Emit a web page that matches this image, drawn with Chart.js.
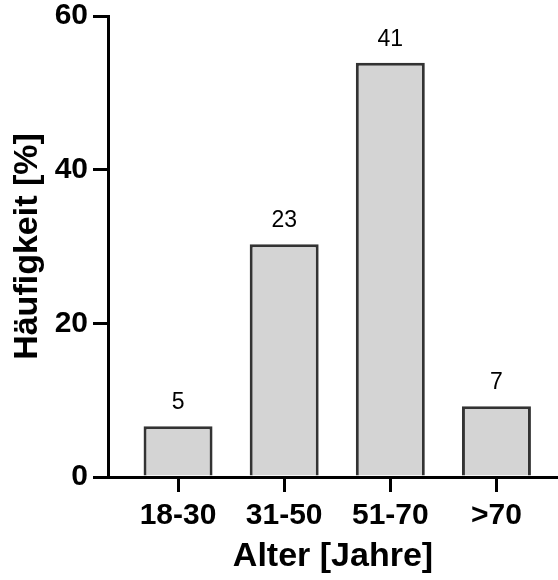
<!DOCTYPE html>
<html lang="de">
<head>
  <meta charset="utf-8">
  <title>Altersverteilung</title>
  <script src="https://cdn.jsdelivr.net/npm/chart.js"></script>
  <style>
    html, body { margin: 0; padding: 0; background: #fff; }
    #chart { display: block; }
  </style>
</head>
<body>
  <canvas id="chart" width="558" height="580"></canvas>
  <script>
    // Altersgruppen, Häufigkeit in % und Anzahl (Beschriftung über den Balken)
    const categories = ['18-30', '31-50', '51-70', '>70'];
    const percentages = [6.6, 30.3, 53.9, 9.2];
    const counts = [5, 23, 41, 7];
    const yTickValues = [0, 20, 40, 60];

    const FONT = '"Liberation Sans", Arial, Helvetica, sans-serif';

    // Anzahl über jedem Balken
    const countLabels = {
      id: 'countLabels',
      afterDatasetsDraw(chart) {
        const ctx = chart.ctx;
        const meta = chart.getDatasetMeta(0);
        ctx.save();
        ctx.font = '23px ' + FONT;
        ctx.fillStyle = '#000';
        ctx.textAlign = 'center';
        ctx.textBaseline = 'alphabetic';
        meta.data.forEach((bar, i) => {
          ctx.fillText(String(counts[i]), bar.x, bar.y - 17);
        });
        ctx.restore();
      }
    };

    const ctx = document.getElementById('chart').getContext('2d');
    new Chart(ctx, {
      type: 'bar',
      data: {
        datasets: [{
          data: categories.map((c, i) => ({ x: i, y: percentages[i] })),
          backgroundColor: '#d4d4d4',
          borderColor: '#333333',
          borderWidth: 3,
          barPercentage: 0.65,
          categoryPercentage: 1
        }]
      },
      options: {
        responsive: false,
        animation: false,
        layout: { padding: 0 },
        plugins: {
          legend: { display: false },
          tooltip: { enabled: false }
        },
        scales: {
          x: {
            type: 'linear',
            min: -0.66,
            max: 3.58,
            offset: false,
            afterBuildTicks: (scale) => {
              scale.ticks = categories.map((c, i) => ({ value: i }));
            },
            afterFit: (scale) => { scale.height = 103; },
            grid: {
              offset: false,
              drawOnChartArea: false,
              drawTicks: true,
              tickLength: 15,
              lineWidth: 3,
              color: '#000'
            },
            border: { display: true, color: '#000', width: 3 },
            ticks: {
              autoSkip: false,
              maxRotation: 0,
              padding: 6,
              color: '#000',
              font: { family: FONT, size: 30, weight: 'bold' },
              callback: (v) => categories[v]
            },
            title: {
              display: true,
              text: 'Alter [Jahre]',
              color: '#000',
              padding: { top: 4, bottom: 3 },
              font: { family: FONT, size: 34, weight: 'bold' }
            }
          },
          y: {
            min: 0,
            max: 60,
            afterBuildTicks: (scale) => {
              scale.ticks = yTickValues.map(v => ({ value: v }));
            },
            afterFit: (scale) => {
              scale.width = 108;
              scale.paddingTop = 16;
            },
            grid: {
              drawOnChartArea: false,
              drawTicks: true,
              tickLength: 15,
              lineWidth: 3,
              color: '#000'
            },
            border: { display: true, color: '#000', width: 3 },
            ticks: {
              padding: 5,
              color: '#000',
              font: { family: FONT, size: 30, weight: 'bold' }
            },
            title: {
              display: true,
              text: 'Häufigkeit [%]',
              color: '#000',
              padding: { top: 7, bottom: 0 },
              font: { family: FONT, size: 34, weight: 'bold' }
            }
          }
        }
      },
      plugins: [countLabels]
    });
  </script>
</body>
</html>
